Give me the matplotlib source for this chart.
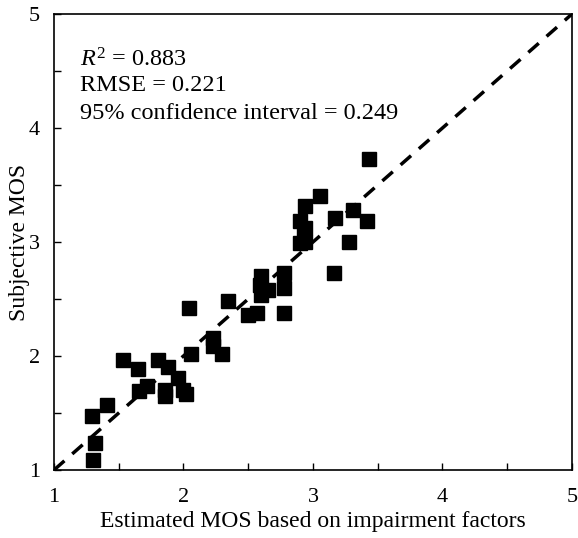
import numpy as np
import matplotlib.pyplot as plt

plt.rcParams['font.family'] = ['Liberation Serif', 'DejaVu Serif']
plt.rcParams['mathtext.fontset'] = 'custom'
plt.rcParams['mathtext.rm'] = 'Liberation Serif'
plt.rcParams['mathtext.it'] = 'Liberation Serif:italic'

# Estimated MOS (x) vs subjective MOS (y)
est_mos = [1.29, 1.32, 1.30, 1.41, 1.535, 1.65, 1.66, 1.72, 1.80, 1.88,
           1.86, 1.86, 1.96, 2.00, 2.02, 2.045, 2.055, 2.225, 2.23, 2.30,
           2.34, 2.50, 2.565, 2.59, 2.60, 2.60, 2.655, 2.78, 2.78, 2.78,
           2.90, 2.94, 2.93, 2.90, 2.94, 2.94, 3.055, 3.16, 3.17, 3.28,
           3.31, 3.415, 3.43]
subj_mos = [1.47, 1.24, 1.09, 1.57, 1.965, 1.89, 1.69, 1.74, 1.965, 1.905,
            1.70, 1.65, 1.81, 1.70, 1.67, 2.42, 2.02, 2.09, 2.16, 2.02,
            2.48, 2.36, 2.375, 2.62, 2.70, 2.535, 2.58, 2.73, 2.60, 2.375,
            3.18, 3.12, 3.06, 2.99, 3.00, 3.32, 3.40, 2.73, 3.21, 3.00,
            3.28, 3.18, 3.73]

r2 = 0.883
rmse = 0.221
ci95 = 0.249

fig = plt.figure(figsize=(5.78, 5.38), dpi=100)
ax = fig.add_axes([0.0934, 0.1264, 0.8962, 0.8476])

ax.plot([1, 5], [1, 5], 'k--', linewidth=2.5, dashes=(4, 3))
ax.plot(est_mos, subj_mos, 's', color='black', markersize=10.5)

ax.set_xlim(1, 5)
ax.set_ylim(1, 5)
ax.set_xticks(np.arange(1, 5.01, 0.5))
ax.set_yticks(np.arange(1, 5.01, 0.5))
ax.set_xticklabels(['1', '', '2', '', '3', '', '4', '', '5'])
ax.set_yticklabels(['1', '', '2', '', '3', '', '4', '', '5'])
ax.tick_params(direction='in', length=5, width=1, labelsize=16)
ax.tick_params(axis='x', pad=13)
ax.tick_params(axis='y', pad=10)
for s in ax.spines.values():
    s.set_linewidth(1.2)

ax.set_xlabel('Estimated MOS based on impairment factors', fontsize=17, labelpad=3)
ax.set_ylabel('Subjective MOS', fontsize=17, labelpad=-1)

ax.text(0.05, 0.9, f'$R^2$ = {r2}', transform=ax.transAxes, fontsize=17.5, va='center')
ax.text(0.05, 0.843, f'RMSE = {rmse}', transform=ax.transAxes, fontsize=17.5, va='center')
ax.text(0.05, 0.782, f'95% confidence interval = {ci95}', transform=ax.transAxes,
        fontsize=17.5, va='center')

fig.savefig('out.png', dpi=100)
